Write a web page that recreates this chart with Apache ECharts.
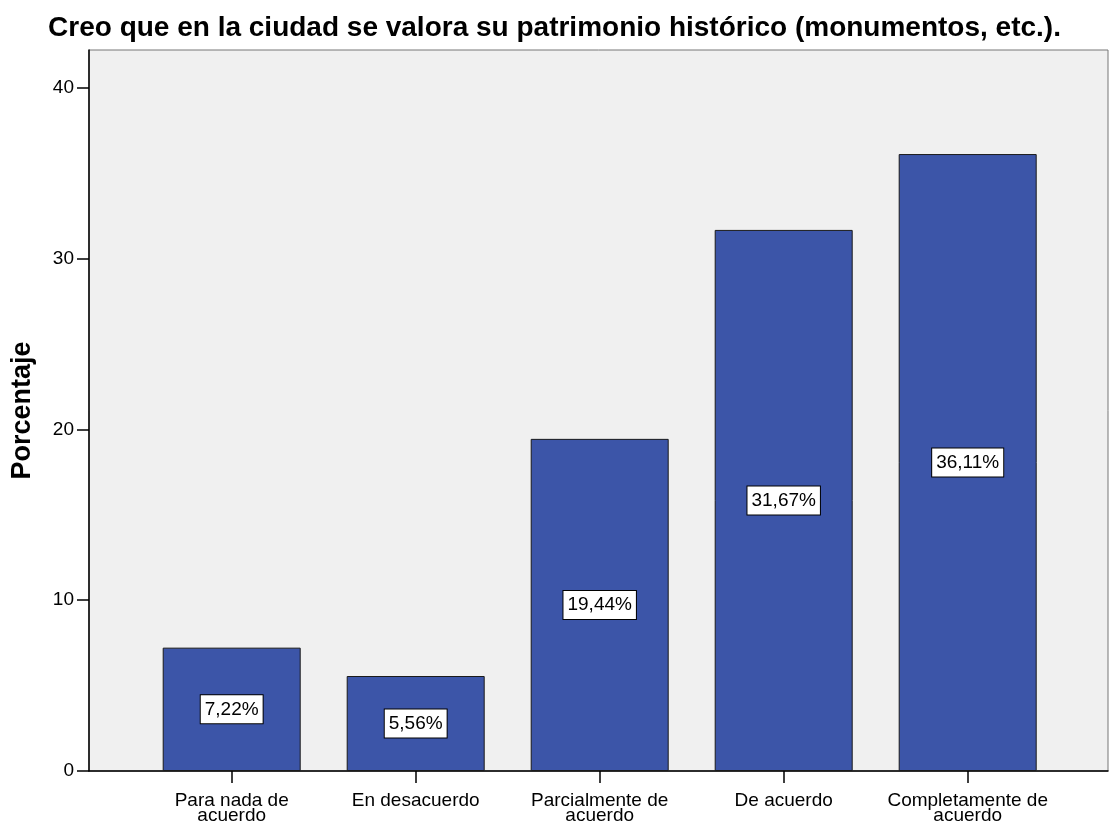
<!DOCTYPE html>
<html>
<head>
<meta charset="utf-8">
<script src="https://cdn.jsdelivr.net/npm/echarts@6/dist/echarts.min.js"></script>
<style>
  html, body { margin: 0; padding: 0; background: #fff; }
  #main { width: 1109px; height: 825px; }
</style>
</head>
<body>
<div id="main"></div>
<script>
var titleText = 'Creo que en la ciudad se valora su patrimonio histórico (monumentos, etc.).';
var categories = ['Para nada de\nacuerdo', 'En desacuerdo', 'Parcialmente de\nacuerdo', 'De acuerdo', 'Completamente de\nacuerdo'];
var percentages = [7.22, 5.56, 19.44, 31.67, 36.11];
var yTicks = [0, 10, 20, 30, 40];

function render_bar(id){
  var chartDom = document.getElementById(id);
  var myChart = echarts.init(chartDom);
  var option;

  var font = 'Liberation Sans, Arial, sans-serif';
  var positions = categories.map(function (c, i) { return i; });
  var barData = percentages.map(function (v, i) { return [i, v]; });

  option = {
    animation: false,
    title: {
      text: titleText,
      left: 'center',
      top: 9,
      textStyle: { fontFamily: font, fontSize: 28, fontWeight: 'bold', color: '#000' }
    },
    grid: {
      left: 89,
      right: 1,
      top: 50,
      bottom: 54,
      show: true,
      backgroundColor: '#f0f0f0',
      borderColor: '#777',
      borderWidth: 1
    },
    xAxis: {
      type: 'value',
      min: -0.7755,  // espacio a la izquierda de la primera barra
      max: 4.7625,
      splitLine: { show: false },
      axisLine: { show: true, onZero: false, lineStyle: { color: '#000', width: 1.5 } },
      axisTick: { show: true, customValues: positions, length: 12, lineStyle: { color: '#000', width: 1.5 } },
      axisLabel: {
        customValues: positions,
        formatter: function (v) { return categories[Math.round(v)]; },
        fontFamily: font,
        fontSize: 19,
        lineHeight: 15,
        color: '#000',
        margin: 22
      }
    },
    yAxis: {
      type: 'value',
      min: 0,
      max: 42.2,
      name: 'Porcentaje',
      nameLocation: 'middle',
      nameGap: 53,
      nameTextStyle: { fontFamily: font, fontSize: 27, fontWeight: 'bold', color: '#000' },
      splitLine: { show: false },
      axisLine: { show: true, onZero: false, lineStyle: { color: '#000', width: 1.5 } },
      axisTick: { show: true, customValues: yTicks, length: 12, lineStyle: { color: '#000', width: 1.5 } },
      axisLabel: {
        customValues: yTicks,
        fontFamily: font,
        fontSize: 19,
        color: '#000',
        margin: 15
      }
    },
    series: [
      {
        type: 'bar',
        data: barData,
        barWidth: 138,
        itemStyle: {
          color: '#3c55a8',
          borderColor: '#1a1a1a',
          borderWidth: 1
        },
        label: {
          show: true,
          position: 'inside',
          formatter: function (p) { return p.value[1].toFixed(2).replace('.', ',') + '%'; },
          fontFamily: font,
          fontSize: 19,
          color: '#000',
          backgroundColor: '#fff',
          borderColor: '#000',
          borderWidth: 1,
          padding: [5, 4, 4, 4]
        }
      }
    ]
  };
  option && myChart.setOption(option);
  myChart.resize();
}

render_bar('main');
</script>
</body>
</html>
